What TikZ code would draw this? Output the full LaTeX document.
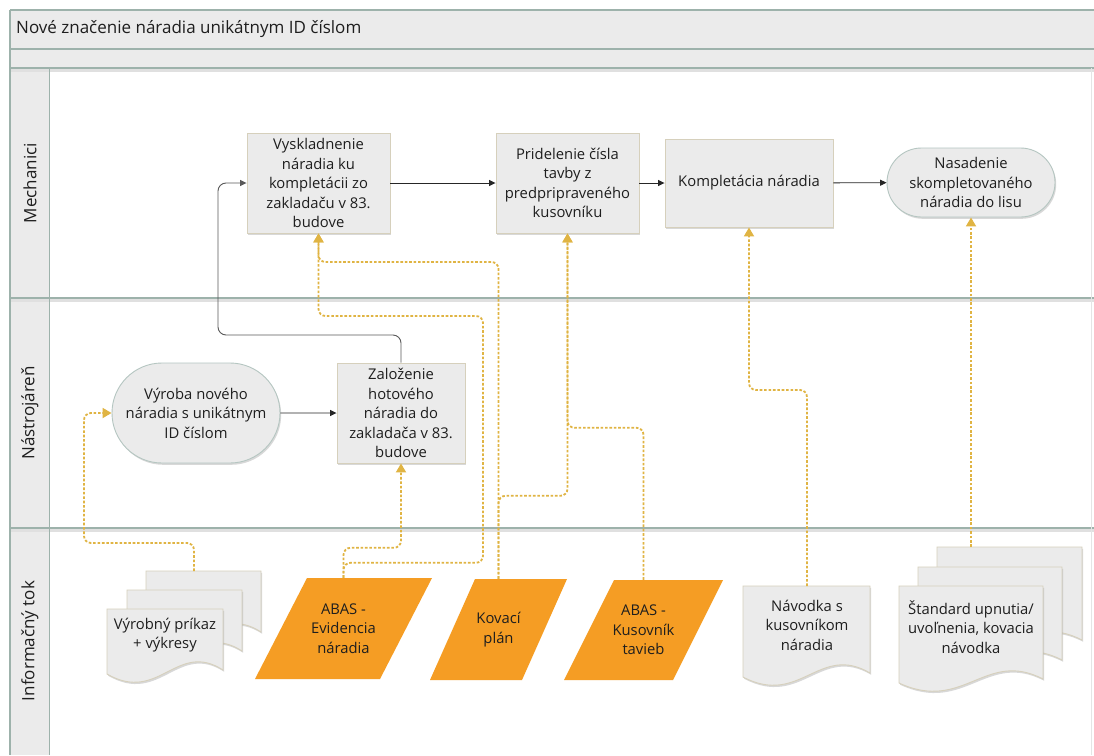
\documentclass[tikz,border=0pt]{standalone}
\usepackage{fontspec}
\setmainfont{Open Sans}
\usetikzlibrary{arrows.meta,shapes.misc,shadows,calc}

\definecolor{bandfill}{HTML}{EBEBEB}
\definecolor{laneline}{HTML}{9DB2AB}
\definecolor{boxfill}{HTML}{EBEBEB}
\definecolor{boxline}{HTML}{D6D0BC}
\definecolor{termline}{HTML}{B5C6C1}
\definecolor{infoorange}{HTML}{F59D24}
\definecolor{infoflow}{HTML}{E0B443}
\definecolor{txt}{HTML}{1E1E1E}

\tikzset{
  softshadow/.style={drop shadow={shadow xshift=1.2pt, shadow yshift=-1.8pt, opacity=0.25, fill=black!60}},
  stepbox/.style={rectangle, draw=boxline, fill=boxfill, line width=0.9pt, inner sep=0pt,
    align=center, text=txt, softshadow},
  term/.style={rounded rectangle, draw=termline, fill=boxfill, line width=0.9pt, inner sep=0pt,
    align=center, text=txt, softshadow},
  para/.style={rectangle, inner sep=0pt, align=center, text=txt,
    path picture={\fill[infoorange] (path picture bounding box.south west)
      -- ([xshift=-#1pt]path picture bounding box.south east)
      -- (path picture bounding box.north east)
      -- ([xshift=#1pt]path picture bounding box.north west) -- cycle;}},
  doctext/.style={inner sep=0pt, align=center, text=txt},
  docstyle/.style={fill=boxfill, draw=boxline, line width=0.9pt, softshadow},
  lanelabel/.style={rotate=90, inner sep=0pt, text=txt, font=\fontsize{17}{20}\selectfont},
  flow/.style={draw=black!85, line width=0.9pt, -{Triangle[width=6pt,length=6.5pt]}},
  info/.style={draw=infoflow, line width=1.8pt, dash pattern=on 2.6pt off 1.8pt,
    rounded corners=7pt, -{Triangle[width=10pt,length=9pt,fill=infoflow]}},
}

% one paper sheet of a document symbol: left x, top y, width, height of the right edge
\newcommand\docsheet[4]{%
  \filldraw[docstyle] (#1,#2) -- ++(#3,0) -- ++(0,#4)
    .. controls +(-0.4*#3,-30) and +(0.45*#3,30) .. (#1,#2+#4+4) -- cycle;}

\begin{document}
\begin{tikzpicture}[x=1pt,y=-1pt,font=\fontsize{14.8}{19.5}\selectfont]
\useasboundingbox (0,0) rectangle (1094,755);
\fill[white] (0,0) rectangle (1094,755);

% pool header and lane label column
\fill[bandfill] (10,10) rectangle (1094,68);
\fill[bandfill] (10,68) rectangle (49,755);
\foreach \yy in {70.5,300.5,530.5}
  \draw[black!12, line width=3pt] (10,\yy) -- (1094,\yy);
\foreach \yy in {10,49,68,298,528}
  \draw[laneline, line width=1.6pt] (10,\yy) -- (1094,\yy);
\draw[laneline, line width=1.6pt] (10,10) -- (10,755);
\draw[laneline, line width=1pt] (49,68) -- (49,755);
\draw[black!10, line width=1pt] (1091,68) -- (1091,755);

\node[anchor=west, inner sep=0pt, text=txt, font=\fontsize{17}{20}\selectfont] (title) at (16,29)
  {Nové značenie náradia unikátnym ID číslom};

\node[lanelabel] (laneA) at (30,183) {Mechanici};
\node[lanelabel] (laneB) at (30,413) {Nástrojáreň};
\node[lanelabel] (laneC) at (30,641) {Informačný tok};

% process steps
\node[stepbox, minimum width=143, minimum height=100] (vys) at (318.5,183)
  {Vyskladnenie\\náradia ku\\kompletácii zo\\zakladaču v 83.\\budove};
\node[stepbox, minimum width=143, minimum height=100] (pri) at (567.5,183)
  {Pridelenie čísla\\tavby z\\predpripraveného\\kusovníku};
\node[stepbox, minimum width=168, minimum height=88] (kom) at (749,183)
  {Kompletácia náradia};
\node[term, minimum width=168, minimum height=69] (nas) at (971,182.5)
  {Nasadenie\\skompletovaného\\náradia do lisu};
\node[term, minimum width=168, minimum height=100] (vyr) at (196,413)
  {Výroba nového\\náradia s unikátnym\\ID číslom};
\node[stepbox, minimum width=128, minimum height=100] (zal) at (401,413)
  {Založenie\\hotového\\náradia do\\zakladača v 83.\\budove};

% data sources
\node[para=52, minimum width=177, minimum height=101] (ev) at (343.5,628.5)
  {ABAS -\\Evidencia\\náradia};
\node[para=45, minimum width=137, minimum height=101] (kp) at (498.5,629.5)
  {Kovací\\plán};
\node[para=50, minimum width=159, minimum height=100] (ku) at (643.5,630)
  {ABAS -\\Kusovník\\tavieb};

% documents
\docsheet{146}{571}{115}{61}
\docsheet{127}{590}{115}{61}
\docsheet{107}{609}{116}{61}
\node[doctext] (vp) at (165,635) {Výrobný príkaz\\+ výkresy};
\coordinate (vptop) at (194,571);

\docsheet{743}{586}{127}{87}
\node[doctext] (nav) at (807,625) {Návodka s\\kusovníkom\\náradia};
\coordinate (navtop) at (807,586);

\docsheet{937}{547}{145}{93}
\docsheet{918}{567}{144}{93}
\docsheet{899}{586}{144}{93}
\node[doctext] (st) at (971,627) {Štandard upnutia/\\uvoľnenia, kovacia\\návodka};
\coordinate (sttop) at (971,547);

% sequence flow
\draw[flow] (vys) -- (pri);
\draw[flow] (pri) -- (kom);
\draw[flow] (kom) -- (nas);
\draw[flow] (vyr) -- (zal);
\draw[flow, draw=black!65, rounded corners=8pt] (zal.north) |- (218,335) |- (vys.west);

% information flow
\draw[info] (vptop) |- (84,543) |- (vyr.west);
\draw[info] (ev.north) -- ++(0,-30) -| (zal.south);
\draw[info] (ev.north) -- ++(0,-15) -| (483,316) -| (vys.south);
\draw[info] (kp.north) |- (318.5,262) -- (vys.south);
\draw[info] (kp.north) -- ++(0,-83) -| (pri.south);
\draw[info] (ku.north) -- ++(0,-152) -| (pri.south);
\draw[info] (navtop) -- ++(0,-196) -| (kom.south);
\draw[info] (sttop) -- (nas.south);
\end{tikzpicture}
\end{document}
